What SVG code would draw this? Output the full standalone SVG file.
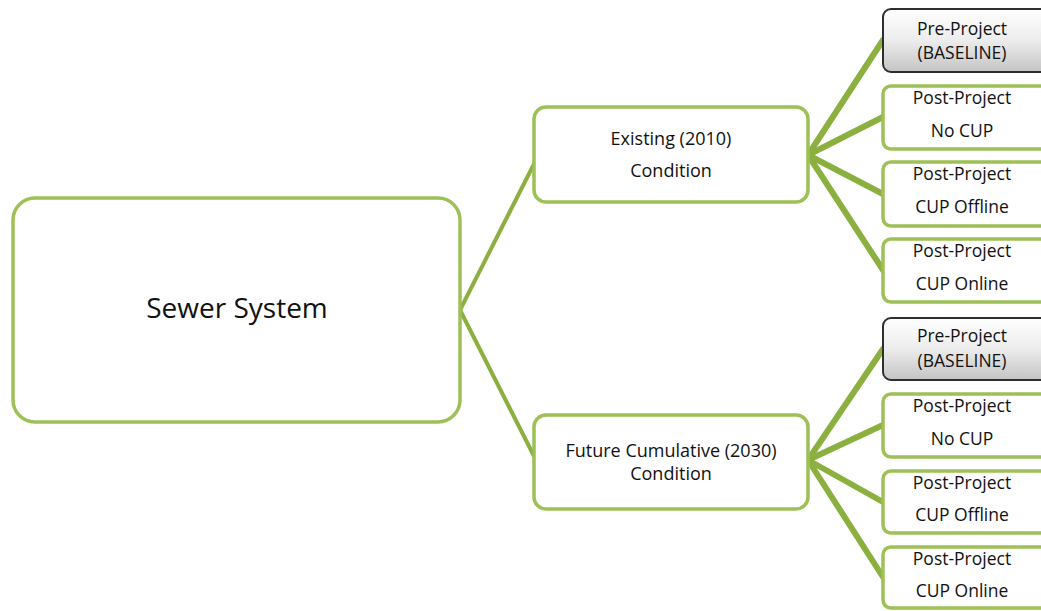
<svg xmlns="http://www.w3.org/2000/svg" width="1041" height="611" viewBox="0 0 1041 611">
  <defs>
    <linearGradient id="gray" x1="0" y1="0" x2="0" y2="1">
      <stop offset="0" stop-color="#ffffff"/>
      <stop offset="0.5" stop-color="#ececec"/>
      <stop offset="1" stop-color="#c4c4c4"/>
    </linearGradient>
    <style>
      text { font-family: "Open Sans", "Liberation Sans", sans-serif; fill: #111; text-anchor: middle; }
      .gbox { fill: #ffffff; stroke: #9dc057; stroke-width: 3.5; }
      .base { fill: url(#gray); stroke: #2e2e2e; stroke-width: 2; }
      .conn { stroke: #8bb040; fill: none; stroke-linecap: round; }
      .thin { stroke-width: 4; }
      .thick { stroke-width: 6; }
      .t16 { font-size: 17.5px; }
      .t18 { font-size: 18px; }
    </style>
  </defs>

  <g id="connectors">
    <path class="conn thin" d="M460,310 L537,158"/>
    <path class="conn thin" d="M460,310 L537,462"/>
    <path class="conn thick" d="M808,155 L883,40"/>
    <path class="conn thick" d="M808,155 L883,117"/>
    <path class="conn thick" d="M808,155 L883,194"/>
    <path class="conn thick" d="M808,155 L883,270"/>
    <path class="conn thick" d="M808,460 L883,349"/>
    <path class="conn thick" d="M808,460 L883,425"/>
    <path class="conn thick" d="M808,460 L883,502"/>
    <path class="conn thick" d="M808,460 L883,577"/>
  </g>

  <g id="sewer">
    <rect class="gbox" x="13" y="198" width="447" height="224" rx="22"/>
    <text x="237" y="318" font-size="28">Sewer System</text>
  </g>

  <g id="existing">
    <rect class="gbox" x="534" y="107" width="274" height="95" rx="12"/>
    <text class="t18" x="671" y="145">Existing (2010)</text>
    <text class="t18" x="671" y="177">Condition</text>
  </g>

  <g id="future">
    <rect class="gbox" x="534" y="415" width="274" height="94" rx="12"/>
    <text class="t18" x="671" y="457">Future Cumulative (2030)</text>
    <text class="t18" x="671" y="480">Condition</text>
  </g>

  <g id="e-baseline">
    <rect class="base" x="883" y="9" width="175" height="63" rx="8"/>
    <text class="t16" x="962" y="35">Pre-Project</text>
    <text class="t16" x="962" y="59">(BASELINE)</text>
  </g>
  <g id="e-nocup">
    <rect class="gbox" x="883" y="86" width="175" height="63" rx="8"/>
    <text class="t16" x="962" y="104">Post-Project</text>
    <text class="t16" x="962" y="137">No CUP</text>
  </g>
  <g id="e-offline">
    <rect class="gbox" x="883" y="162" width="175" height="64" rx="8"/>
    <text class="t16" x="962" y="180">Post-Project</text>
    <text class="t16" x="962" y="213">CUP Offline</text>
  </g>
  <g id="e-online">
    <rect class="gbox" x="883" y="239" width="175" height="63" rx="8"/>
    <text class="t16" x="962" y="257">Post-Project</text>
    <text class="t16" x="962" y="290">CUP Online</text>
  </g>

  <g id="f-baseline">
    <rect class="base" x="883" y="318" width="175" height="62" rx="8"/>
    <text class="t16" x="962" y="342">Pre-Project</text>
    <text class="t16" x="962" y="367">(BASELINE)</text>
  </g>
  <g id="f-nocup">
    <rect class="gbox" x="883" y="394" width="175" height="63" rx="8"/>
    <text class="t16" x="962" y="412">Post-Project</text>
    <text class="t16" x="962" y="445">No CUP</text>
  </g>
  <g id="f-offline">
    <rect class="gbox" x="883" y="471" width="175" height="62" rx="8"/>
    <text class="t16" x="962" y="489">Post-Project</text>
    <text class="t16" x="962" y="521">CUP Offline</text>
  </g>
  <g id="f-online">
    <rect class="gbox" x="883" y="547" width="175" height="61" rx="8"/>
    <text class="t16" x="962" y="565">Post-Project</text>
    <text class="t16" x="962" y="597">CUP Online</text>
  </g>
</svg>
